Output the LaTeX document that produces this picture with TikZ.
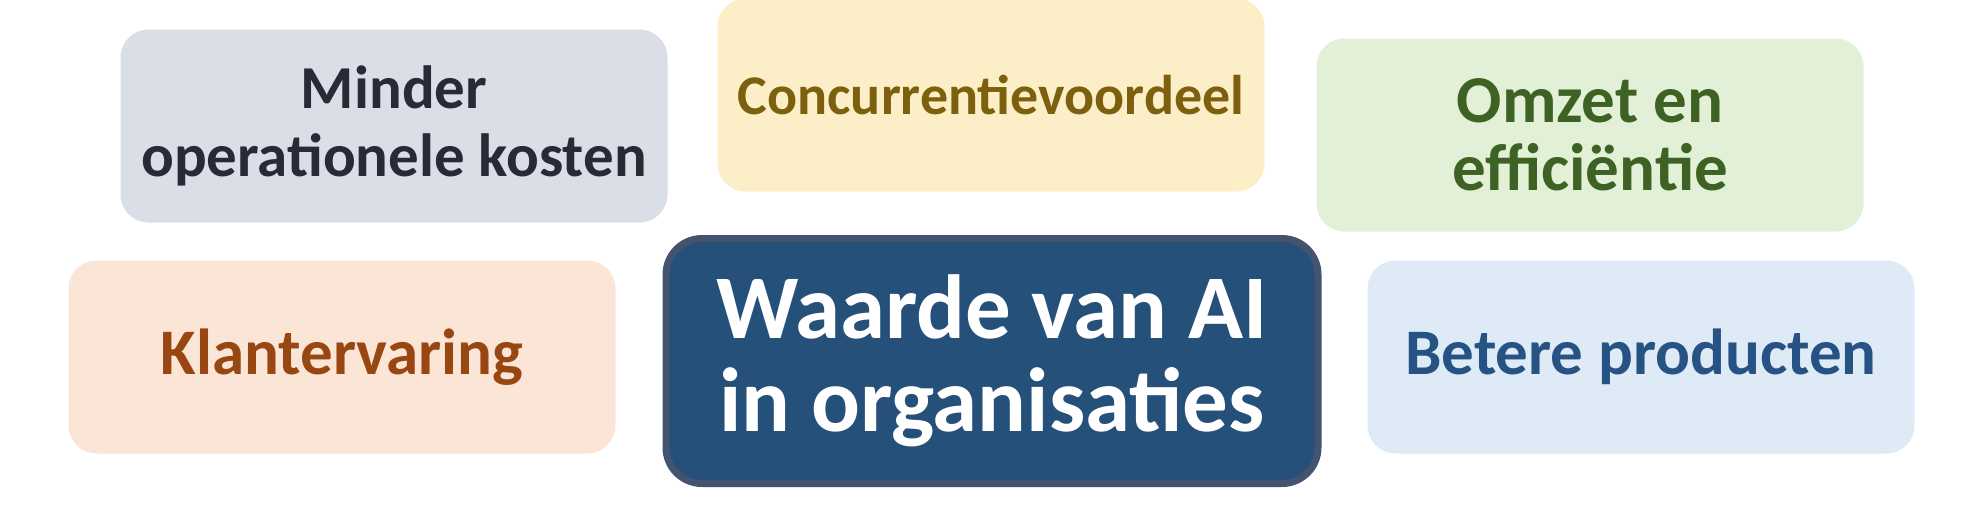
\documentclass[tikz,border=0pt]{standalone}
\usepackage{fontspec}
\setmainfont{Carlito}
\definecolor{grijsvak}{HTML}{D9DEE7}
\definecolor{grijstekst}{HTML}{262B36}
\definecolor{geelvak}{HTML}{FCEFC8}
\definecolor{geeltekst}{HTML}{7D600E}
\definecolor{groenvak}{HTML}{E2F0D8}
\definecolor{groentekst}{HTML}{3E6223}
\definecolor{oranjevak}{HTML}{FBE5D7}
\definecolor{oranjetekst}{HTML}{984712}
\definecolor{blauwvak}{HTML}{DEEAF6}
\definecolor{blauwtekst}{HTML}{275384}
\definecolor{kernvak}{HTML}{245079}
\definecolor{kernrand}{HTML}{435370}
\tikzset{
  voordeel/.style={rounded corners=28pt, minimum width=547pt, minimum height=193pt,
    align=center, inner sep=0pt},
  maat/.style={font=\fontsize{#1}{68}\selectfont\bfseries},
  kern/.style={rounded corners=36pt, minimum width=652pt, minimum height=245pt,
    align=center, font=\fontsize{91}{93}\selectfont\bfseries, inner sep=0pt,
    fill=kernvak, draw=kernrand, line width=7pt, text=white}
}

\begin{document}
\begin{tikzpicture}[x=1pt, y=-1pt]
    \useasboundingbox (0,0) rectangle (1969,528);
    % kern in het midden
    \node[kern] (waarde) at (992,361) {Waarde van AI\\in organisaties};
    % de vijf voordelen
    \node[voordeel, maat=61, fill=grijsvak, text=grijstekst] (kosten) at (394,126) {Minder\\operationele kosten};
    \node[voordeel, maat=56, fill=geelvak, text=geeltekst] (concurrentie) at (991,95) {Concurrentievoordeel};
    \node[voordeel, maat=67, fill=groenvak, text=groentekst] (omzet) at (1590,135) {Omzet en\\efficiëntie};
    \node[voordeel, maat=65, fill=oranjevak, text=oranjetekst] (klant) at (342,357) {Klantervaring};
    \node[voordeel, maat=65, fill=blauwvak, text=blauwtekst] (producten) at (1641,357) {Betere producten};
\end{tikzpicture}
\end{document}
